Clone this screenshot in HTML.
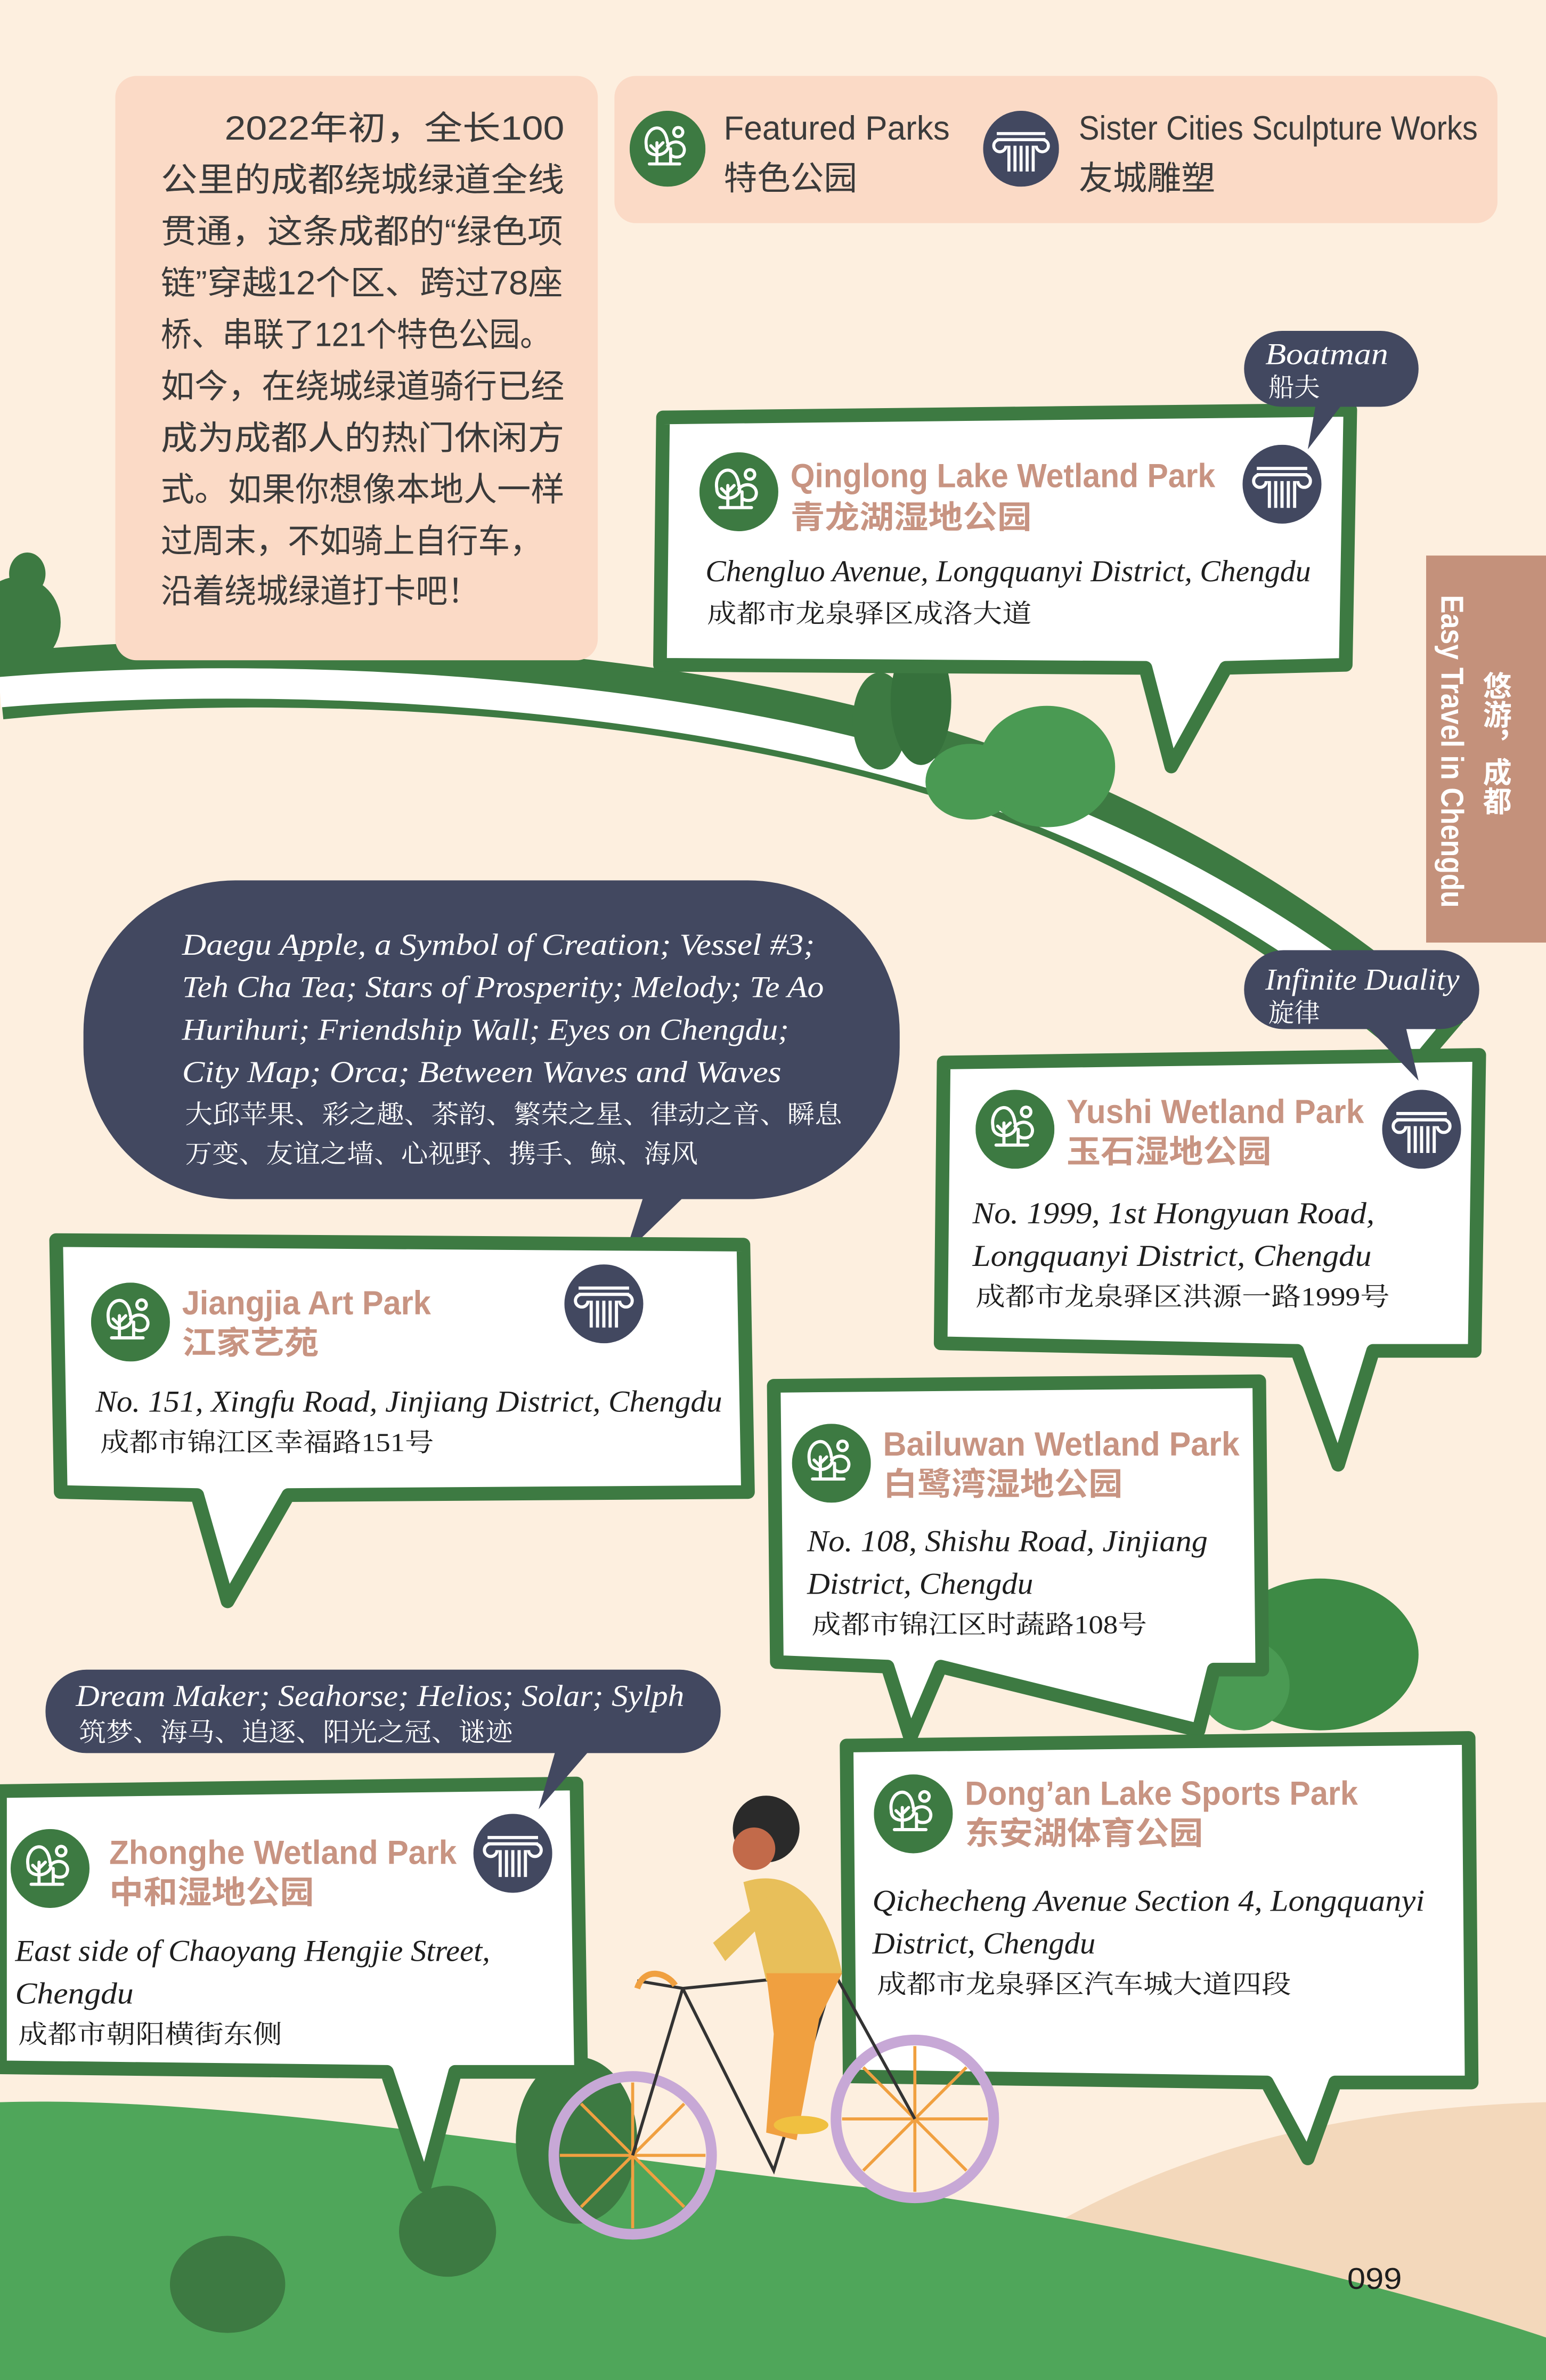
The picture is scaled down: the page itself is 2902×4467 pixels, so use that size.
<!DOCTYPE html>
<html><head><meta charset="utf-8"><style>
html,body{margin:0;padding:0;background:#fdefdf;}
svg{display:block}
.cn{font-family:"Liberation Sans","Noto Sans CJK SC",sans-serif;}
.ttl{font-family:"Liberation Sans","Noto Sans CJK SC",sans-serif;font-weight:bold;fill:#c89482;font-size:22px}
.ttlc{font-family:"Liberation Sans","Noto Sans CJK SC",sans-serif;fill:#c89482;font-size:21px;font-weight:bold}
.adr{font-family:"Liberation Serif","Noto Serif CJK SC",serif;font-style:italic;fill:#1e1e1e;font-size:20px}
.adc{font-family:"Liberation Serif","Noto Serif CJK SC",serif;fill:#1e1e1e;font-size:17px}
.nv{font-family:"Liberation Serif","Noto Serif CJK SC",serif;font-style:italic;fill:#fff;font-size:20px}
.nvc{font-family:"Liberation Serif","Noto Serif CJK SC",serif;fill:#fff;font-size:17px}
</style></head><body>
<svg width="2902" height="4467" viewBox="0 0 1019 1568" preserveAspectRatio="none">
<defs>
<symbol id="park" viewBox="-25 -25 50 50">
<circle r="25" fill="#3d7a42"/>
<path d="M-12 10 L8 10 M-7 10 L-7 -4 M-7 2 L-11 -2 M-7 0 L-3 -4 M-14 -2 C-16 -14 -2 -20 0 -4 C2 0 -2 4 -7 4 C-11 4 -14 2 -14 -2 Z M2 10 L2 0 M0 -2 C6 -8 14 -2 10 4 C8 6 4 6 2 4 M7 -14 a3 3 0 1 0 0.1 0" stroke="#fff" stroke-width="2" fill="none" stroke-linecap="round"/>
</symbol>
<symbol id="sculpt" viewBox="-25 -25 50 50">
<circle r="25" fill="#424860"/>
<path d="M-16 -10 L16 -10 M-16 -6 L16 -6 M-14 -6 a4 4 0 1 0 4 4 M14 -6 a4 4 0 1 1 -4 4 M-8 -2 L-8 15 M-4 -2 L-4 15 M0 -2 L0 15 M4 -2 L4 15 M8 -2 L8 15" stroke="#fff" stroke-width="2" fill="none"/>
</symbol>
</defs>
<rect width="1019" height="1568" fill="#fdefdf"/>

<g>
<path d="M0 452 C200 432 500 447 700 532 C800 575 880 630 950 690" stroke="#3d7a42" stroke-width="44" fill="none"/>
<path d="M0 456 C200 440 480 455 680 532 C790 575 870 628 940 686" stroke="#fff" stroke-width="20" fill="none"/>
</g>
<g>
<ellipse cx="12" cy="410" rx="28" ry="30" fill="#3d7a42"/>
<ellipse cx="18" cy="378" rx="12" ry="14" fill="#3d7a42"/>
</g>
<g>
<ellipse cx="580" cy="475" rx="18" ry="32" fill="#3d7a42"/>
<ellipse cx="607" cy="462" rx="20" ry="42" fill="#36713c"/>
<ellipse cx="690" cy="505" rx="45" ry="40" fill="#4a9a53"/>
<ellipse cx="640" cy="515" rx="30" ry="25" fill="#4a9a53"/>
</g>
<g>
<ellipse cx="870" cy="1090" rx="65" ry="50" fill="#3d8a45"/>
<ellipse cx="820" cy="1110" rx="30" ry="30" fill="#4a9a53"/>
</g>

<path d="M560 1568 C700 1430 850 1390 1019 1385 L1019 1568 Z" fill="#f3d8bb"/>
<path d="M0 1385 C150 1380 380 1420 560 1440 C700 1455 900 1500 1019 1540 L1019 1568 L0 1568 Z" fill="#4fa65a"/>
<ellipse cx="380" cy="1410" rx="40" ry="55" fill="#3d7a42"/>
<ellipse cx="150" cy="1505" rx="38" ry="32" fill="#3d7a42"/>
<ellipse cx="295" cy="1470" rx="32" ry="30" fill="#3d7a42"/>

<g>
<rect x="76" y="50" width="318" height="385" rx="14" fill="#fbdac6"/>
<g class="cn" font-size="22" fill="#3a3a3a" lengthAdjust="spacingAndGlyphs">
<text x="148" y="92" textLength="224" lengthAdjust="spacingAndGlyphs">2022年初，全长100</text>
<text x="106" y="126" textLength="266" lengthAdjust="spacingAndGlyphs">公里的成都绕城绿道全线</text>
<text x="106" y="160" textLength="265" lengthAdjust="spacingAndGlyphs">贯通，这条成都的“绿色项</text>
<text x="106" y="194" textLength="265" lengthAdjust="spacingAndGlyphs">链”穿越12个区、跨过78座</text>
<text x="106" y="228" textLength="257" lengthAdjust="spacingAndGlyphs">桥、串联了121个特色公园。</text>
<text x="106" y="262" textLength="266" lengthAdjust="spacingAndGlyphs">如今，在绕城绿道骑行已经</text>
<text x="106" y="296" textLength="266" lengthAdjust="spacingAndGlyphs">成为成都人的热门休闲方</text>
<text x="106" y="330" textLength="266" lengthAdjust="spacingAndGlyphs">式。如果你想像本地人一样</text>
<text x="106" y="364" textLength="251" lengthAdjust="spacingAndGlyphs">过周末，不如骑上自行车，</text>
<text x="106" y="397" textLength="210" lengthAdjust="spacingAndGlyphs">沿着绕城绿道打卡吧！</text>
</g></g>

<g>
<rect x="405" y="50" width="582" height="97" rx="14" fill="#fbdac6"/>
<use href="#park" x="415" y="73" width="50" height="50"/>
<use href="#sculpt" x="648" y="73" width="50" height="50"/>
<g class="cn" font-size="22" fill="#3a3a3a">
<text x="477" y="92" textLength="149" lengthAdjust="spacingAndGlyphs">Featured Parks</text><text x="477" y="125" textLength="88" lengthAdjust="spacingAndGlyphs">特色公园</text>
<text x="711" y="92" textLength="263" lengthAdjust="spacingAndGlyphs">Sister Cities Sculpture Works</text><text x="711" y="125" textLength="90" lengthAdjust="spacingAndGlyphs">友城雕塑</text>
</g></g>

<g>
<rect x="940" y="366" width="79" height="255" fill="#c4917b"/>
<text transform="translate(950,392) rotate(90)" font-family="Liberation Sans,sans-serif" font-weight="bold" font-size="21" fill="#fff" textLength="206" lengthAdjust="spacingAndGlyphs">Easy Travel in Chengdu</text>
<text x="985" y="442" class="cn" font-size="19" fill="#fff" font-weight="bold" style="writing-mode:tb">悠游，成都</text>
</g>

<g>
<path d="M437 275 L890 270 L887 438 L808 440 L772 505 L755 440 L435 438 Z" fill="#fff" stroke="#3d7a42" stroke-width="9" stroke-linejoin="round"/>
<use href="#park" x="461" y="298" width="52" height="52"/>
<use href="#sculpt" x="819" y="293" width="52" height="52"/>
<text class="ttl" x="521" y="321" textLength="280" lengthAdjust="spacingAndGlyphs">Qinglong Lake Wetland Park</text>
<text class="ttlc" x="521" y="348" textLength="159" lengthAdjust="spacingAndGlyphs">青龙湖湿地公园</text>
<text class="adr" x="465" y="383" textLength="399" lengthAdjust="spacingAndGlyphs">Chengluo Avenue, Longquanyi District, Chengdu</text>
<text class="adc" x="466" y="410" textLength="214" lengthAdjust="spacingAndGlyphs">成都市龙泉驿区成洛大道</text>
</g>
<g>
<path d="M868 262 L862 296 L888 262 Z" fill="#424860"/>
<rect x="820" y="218" width="115" height="50" rx="25" fill="#424860"/>
<text class="nv" x="834" y="240" textLength="81" lengthAdjust="spacingAndGlyphs">Boatman</text><text class="nvc" x="836" y="261">船夫</text>
</g>

<g>
<path d="M430 770 L412 826 L470 770 Z" fill="#424860"/>
<rect x="55" y="580" width="538" height="210" rx="100" fill="#424860"/>
<text class="nv" x="120" y="629" textLength="417" lengthAdjust="spacingAndGlyphs">Daegu Apple, a Symbol of Creation; Vessel #3;</text>
<text class="nv" x="120" y="657" textLength="423" lengthAdjust="spacingAndGlyphs">Teh Cha Tea; Stars of Prosperity; Melody; Te Ao</text>
<text class="nv" x="120" y="685" textLength="400" lengthAdjust="spacingAndGlyphs">Hurihuri; Friendship Wall; Eyes on Chengdu;</text>
<text class="nv" x="120" y="713" textLength="395" lengthAdjust="spacingAndGlyphs">City Map; Orca; Between Waves and Waves</text>
<text class="nvc" x="122" y="740" textLength="433" lengthAdjust="spacingAndGlyphs">大邱苹果、彩之趣、茶韵、繁荣之星、律动之音、瞬息</text>
<text class="nvc" x="122" y="766" textLength="338" lengthAdjust="spacingAndGlyphs">万变、友谊之墙、心视野、携手、鲸、海风</text>
</g>

<g>
<path d="M622 700 L975 695 L972 890 L905 890 L882 965 L855 890 L620 885 Z" fill="#fff" stroke="#3d7a42" stroke-width="9" stroke-linejoin="round"/>
<use href="#park" x="643" y="718" width="52" height="52"/>
<use href="#sculpt" x="911" y="718" width="52" height="52"/>
<text class="ttl" x="703" y="740" textLength="196" lengthAdjust="spacingAndGlyphs">Yushi Wetland Park</text>
<text class="ttlc" x="703" y="766" textLength="135" lengthAdjust="spacingAndGlyphs">玉石湿地公园</text>
<text class="adr" x="641" y="806" textLength="265" lengthAdjust="spacingAndGlyphs">No. 1999, 1st Hongyuan Road,</text>
<text class="adr" x="641" y="834" textLength="263" lengthAdjust="spacingAndGlyphs">Longquanyi District, Chengdu</text>
<text class="adc" x="643" y="860" textLength="273" lengthAdjust="spacingAndGlyphs">成都市龙泉驿区洪源一路1999号</text>
</g>
<g>
<path d="M895 670 L935 712 L925 670 Z" fill="#424860"/>
<rect x="820" y="626" width="155" height="52" rx="26" fill="#424860"/>
<text class="nv" x="834" y="652" textLength="128" lengthAdjust="spacingAndGlyphs">Infinite Duality</text><text class="nvc" x="836" y="673">旋律</text>
</g>

<g>
<path d="M37 817 L490 820 L493 983 L190 985 L150 1055 L130 985 L40 983 Z" fill="#fff" stroke="#3d7a42" stroke-width="9" stroke-linejoin="round"/>
<use href="#park" x="60" y="845" width="52" height="52"/>
<use href="#sculpt" x="372" y="833" width="52" height="52"/>
<text class="ttl" x="120" y="866" textLength="164" lengthAdjust="spacingAndGlyphs">Jiangjia Art Park</text>
<text class="ttlc" x="120" y="892" textLength="90" lengthAdjust="spacingAndGlyphs">江家艺苑</text>
<text class="adr" x="63" y="930" textLength="413" lengthAdjust="spacingAndGlyphs">No. 151, Xingfu Road, Jinjiang District, Chengdu</text>
<text class="adc" x="66" y="956" textLength="220" lengthAdjust="spacingAndGlyphs">成都市锦江区幸福路151号</text>
</g>

<g>
<path d="M510 913 L830 910 L832 1100 L800 1100 L790 1140 L620 1098 L600 1145 L585 1098 L512 1095 Z" fill="#fff" stroke="#3d7a42" stroke-width="9" stroke-linejoin="round"/>
<use href="#park" x="522" y="938" width="52" height="52"/>
<text class="ttl" x="582" y="959" textLength="235" lengthAdjust="spacingAndGlyphs">Bailuwan Wetland Park</text>
<text class="ttlc" x="582" y="985" textLength="158" lengthAdjust="spacingAndGlyphs">白鹭湾湿地公园</text>
<text class="adr" x="532" y="1022" textLength="264" lengthAdjust="spacingAndGlyphs">No. 108, Shishu Road, Jinjiang</text>
<text class="adr" x="532" y="1050" textLength="149" lengthAdjust="spacingAndGlyphs">District, Chengdu</text>
<text class="adc" x="535" y="1076" textLength="221" lengthAdjust="spacingAndGlyphs">成都市锦江区时蔬路108号</text>
</g>

<g>
<path d="M558 1150 L968 1145 L970 1372 L880 1372 L862 1422 L835 1372 L560 1368 Z" fill="#fff" stroke="#3d7a42" stroke-width="9" stroke-linejoin="round"/>
<use href="#park" x="576" y="1169" width="52" height="52"/>
<text class="ttl" x="636" y="1189" textLength="259" lengthAdjust="spacingAndGlyphs">Dong’an Lake Sports Park</text>
<text class="ttlc" x="636" y="1215" textLength="157" lengthAdjust="spacingAndGlyphs">东安湖体育公园</text>
<text class="adr" x="575" y="1259" textLength="364" lengthAdjust="spacingAndGlyphs">Qichecheng Avenue Section 4, Longquanyi</text>
<text class="adr" x="575" y="1287" textLength="147" lengthAdjust="spacingAndGlyphs">District, Chengdu</text>
<text class="adc" x="578" y="1313" textLength="273" lengthAdjust="spacingAndGlyphs">成都市龙泉驿区汽车城大道四段</text>
</g>

<g>
<path d="M0 1180 L380 1175 L383 1365 L300 1365 L280 1440 L255 1365 L0 1362 Z" fill="#fff" stroke="#3d7a42" stroke-width="9" stroke-linejoin="round"/>
<use href="#park" x="7" y="1205" width="52" height="52"/>
<use href="#sculpt" x="312" y="1195" width="52" height="52"/>
<text class="ttl" x="72" y="1228" textLength="229" lengthAdjust="spacingAndGlyphs">Zhonghe Wetland Park</text>
<text class="ttlc" x="72" y="1254" textLength="135" lengthAdjust="spacingAndGlyphs">中和湿地公园</text>
<text class="adr" x="10" y="1292" textLength="313" lengthAdjust="spacingAndGlyphs">East side of Chaoyang Hengjie Street,</text>
<text class="adr" x="10" y="1320" textLength="78" lengthAdjust="spacingAndGlyphs">Chengdu</text>
<text class="adc" x="12" y="1346" textLength="174" lengthAdjust="spacingAndGlyphs">成都市朝阳横街东侧</text>
</g>
<g>
<path d="M370 1140 L355 1192 L400 1140 Z" fill="#424860"/>
<rect x="30" y="1100" width="445" height="55" rx="27" fill="#424860"/>
<text class="nv" x="50" y="1124" textLength="401" lengthAdjust="spacingAndGlyphs">Dream Maker; Seahorse; Helios; Solar; Sylph</text>
<text class="nvc" x="52" y="1147" textLength="286" lengthAdjust="spacingAndGlyphs">筑梦、海马、追逐、阳光之冠、谜迹</text>
</g>

<g>
<circle cx="417" cy="1420" r="52" fill="none" stroke="#c7a8d6" stroke-width="7"/>
<circle cx="603" cy="1396" r="52" fill="none" stroke="#c7a8d6" stroke-width="7"/>
<path d="M417 1372 L417 1468 M369 1420 L465 1420 M383 1386 L451 1454 M451 1386 L383 1454 M603 1348 L603 1444 M555 1396 L651 1396 M569 1362 L637 1430 M637 1362 L569 1430" stroke="#f0a040" stroke-width="2"/>
<path d="M417 1420 L450 1310 L550 1300 L603 1396 M450 1310 L510 1430 L550 1300 M420 1305 L450 1310" stroke="#333" stroke-width="2" fill="none"/>
<path d="M490 1240 C520 1230 545 1250 555 1300 L505 1305 Z" fill="#e8bf5a"/>
<path d="M505 1300 L555 1300 L540 1330 L525 1410 L505 1405 L510 1340 Z" fill="#f0a040"/>
<path d="M470 1280 L505 1250 L510 1260 L478 1292 Z" fill="#e8bf5a"/>
<circle cx="505" cy="1205" r="22" fill="#2a2a2a"/>
<circle cx="497" cy="1218" r="14" fill="#c26a4a"/>
<ellipse cx="528" cy="1400" rx="18" ry="6" fill="#f0c040"/>
<path d="M420 1310 C425 1295 440 1300 445 1308" stroke="#f0a040" stroke-width="4" fill="none"/>
</g>

<text x="888" y="1508" font-family="Liberation Sans,sans-serif" font-size="20" fill="#1e1e1e" textLength="36" lengthAdjust="spacingAndGlyphs">099</text>
</svg>
</body></html>
